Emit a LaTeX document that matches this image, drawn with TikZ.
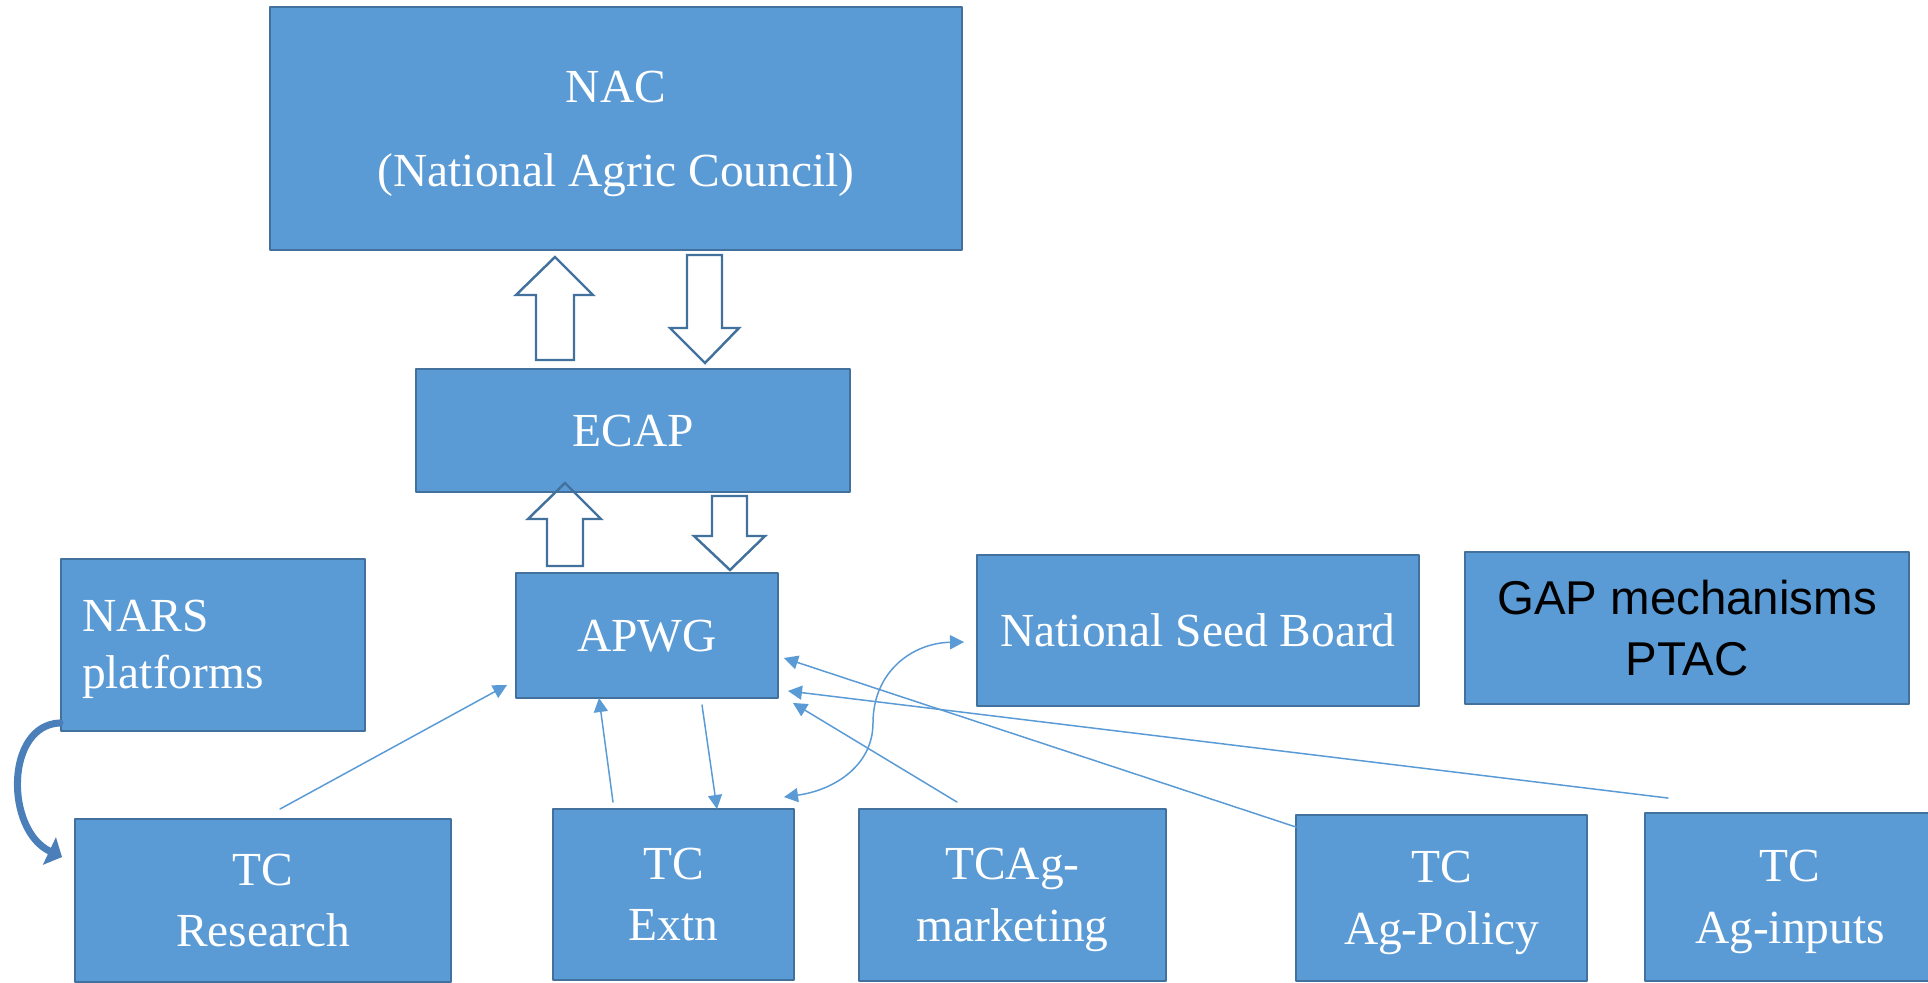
\documentclass[tikz,border=0pt]{standalone}
\usepackage{fontspec}
\setmainfont{Liberation Serif}
\newfontfamily\gapfont{Liberation Sans}
\usetikzlibrary{arrows.meta,calc}
\definecolor{boxblue}{HTML}{5B9BD5}
\definecolor{edgeblue}{HTML}{41719C}
\definecolor{bendblue}{HTML}{4A7FBA}

\begin{document}
\begin{tikzpicture}[x=0.02cm, y=-0.02cm, line cap=round, line join=round,
  box/.style={draw=edgeblue, line width=1.1pt, fill=boxblue, text=white, align=center,
    inner sep=0pt, text depth=0pt, font=\fontsize{27}{35}\selectfont},
  link/.style={draw=boxblue, line width=0.85pt, -{Triangle[length=8pt,width=8pt]}},
  hollow/.style={draw=edgeblue, line width=1.4pt, line join=miter}]
\useasboundingbox (0,0) rectangle (1928,983);

% council and committees
\node[box, minimum width=13.84cm, minimum height=4.86cm, font=\fontsize{27}{47.6}\selectfont]
  (nac) at (616,128.5) {NAC\\(National Agric Council)};
\node[box, minimum width=8.68cm, minimum height=2.46cm] (ecap) at (633,430.5) {ECAP};
\node[box, minimum width=5.24cm, minimum height=2.5cm] (apwg) at (647,635.5) {APWG};

\node[box, text width=5.24cm, inner xsep=0.42cm, minimum height=3.44cm, align=left,
  text depth=33.5pt, font=\fontsize{27}{32.3}\selectfont] (nars) at (213,645) {NARS\\platforms};
\node[box, minimum width=8.84cm, minimum height=3.02cm] (nsb) at (1198,630.5) {National Seed Board};
\node[box, minimum width=8.88cm, minimum height=3.04cm, text=black,
  font=\gapfont\fontsize{27}{35}\selectfont] (gap) at (1687,628) {GAP mechanisms\\PTAC};

% technical committees
\node[box, minimum width=7.52cm, minimum height=3.26cm] (tcres) at (263,900.5) {TC\\Research};
\node[box, minimum width=4.82cm, minimum height=3.42cm] (tcext) at (673.5,894.5) {TC\\Extn};
\node[box, minimum width=6.14cm, minimum height=3.44cm] (tcmkt) at (1012.5,895) {TCAg-\\marketing};
\node[box, minimum width=5.82cm, minimum height=3.32cm] (tcpol) at (1441.5,898) {TC\\Ag-Policy};
\node[box, minimum width=5.8cm, minimum height=3.36cm] (tcinp) at (1790,897) {TC\\Ag-inputs};

% block arrows NAC <-> ECAP <-> APWG
\draw[hollow] (536,360) -- (536,295) -- (516,295) -- (555,257) -- (593,295) -- (574,295) -- (574,360) -- cycle;
\draw[hollow] (687,255) -- (722,255) -- (722,328) -- (739,328) -- (705,363) -- (670,328) -- (687,328) -- cycle;
\draw[hollow] (547,566) -- (547,519) -- (528,519) -- (565,483) -- (601,519) -- (583,519) -- (583,566) -- cycle;
\draw[hollow] (712,496) -- (747,496) -- (747,536) -- (765,536) -- (730,570) -- (694,536) -- (712,536) -- cycle;

% NARS feeds research
\draw[bendblue, line width=4pt, -{Triangle[length=8pt,width=17pt]}]
  ($(nars.south west)+(0,-9)$) .. controls (5,725) and (5,830) .. ($(tcres.north west)+(-12,39)$);

% links into APWG
\draw[link] ($(tcres.north)+(17,-9)$) -- ($(apwg.south west)+(-8,-14)$);
\draw[link] ($(tcext.north)+(-60.5,-6)$) -- ($(apwg.south)+(-48,-1)$);
\draw[link] ($(apwg.south)+(55,6)$) -- ($(tcext.north)+(43.5,1)$);
\draw[link] ($(tcmkt.north)+(-55.5,-6)$) -- ($(apwg.south east)+(14,4)$);
\draw[link] ($(tcpol.north west)+(1,13)$) -- ($(apwg.east)+(5,22.5)$);
\draw[link] ($(tcinp.north)+(-122,-14)$) -- ($(apwg.south east)+(9,-8)$);

% extension <-> seed board
\draw[link, {Triangle[length=8pt,width=8pt]}-{Triangle[length=8pt,width=8pt]}]
  ($(tcext.north east)+(-11,-11)$) .. controls (835,790) and (873,765) .. (873,723)
  .. controls (873,672) and (912,643) .. ($(nsb.west)+(-12,11.5)$);
\end{tikzpicture}
\end{document}
